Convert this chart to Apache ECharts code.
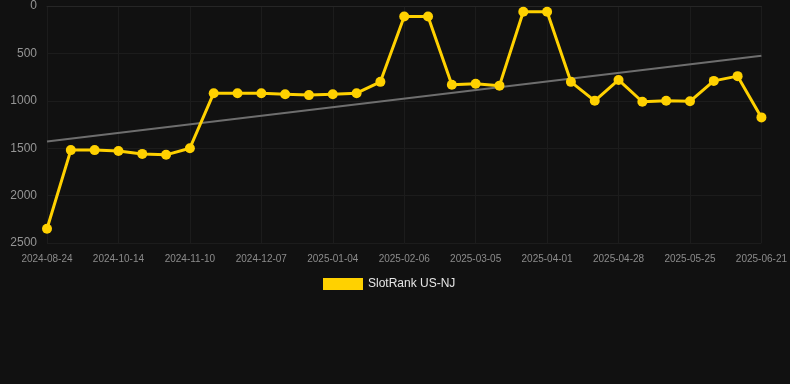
<!DOCTYPE html>
<html>
<head>
<meta charset="utf-8">
<style>
  html, body { margin: 0; padding: 0; background: #111111; }
  #main { width: 790px; height: 384px; }
</style>
<script src="https://cdn.jsdelivr.net/npm/echarts@6/dist/echarts.min.js"></script>
</head>
<body>
<div id="main"></div>
<script>
// Dates des relevés (axe des x)
const dates = [
    '2024-08-24', '2024-09-10', '2024-09-27', '2024-10-14', '2024-10-23', '2024-11-01',
    '2024-11-10', '2024-11-19', '2024-11-28', '2024-12-07', '2024-12-16', '2024-12-26',
    '2025-01-04', '2025-01-15', '2025-01-26', '2025-02-06', '2025-02-15', '2025-02-24',
    '2025-03-05', '2025-03-14', '2025-03-23', '2025-04-01', '2025-04-10', '2025-04-19',
    '2025-04-28', '2025-05-07', '2025-05-16', '2025-05-25', '2025-06-03', '2025-06-12',
    '2025-06-21'
];

// Rang SlotRank US-NJ
const ranks = [
    2350, 1520, 1520, 1530, 1560, 1570,
    1500, 920, 920, 920, 930, 940,
    930, 920, 800, 110, 110, 830,
    820, 840, 60, 60, 800, 1000,
    780, 1010, 1000, 1005, 790, 740,
    1175
];

// Tendance : valeur au début et à la fin
const trendEnds = [1430, 525];

const yTicks = { min: 0, max: 2500, interval: 500 };

const trend = dates.map((d, i) => {
    if (i === 0) return trendEnds[0];
    if (i === dates.length - 1) return trendEnds[1];
    return null;
});

const chart = echarts.init(document.getElementById('main'));

chart.setOption({
    backgroundColor: '#111111',
    animation: false,
    grid: { left: 47, right: 28, top: 6, bottom: 141 },
    legend: {
        top: 273,
        left: 318,
        itemWidth: 40,
        itemHeight: 12,
        itemGap: 6,
        icon: 'rect',
        data: ['SlotRank US-NJ'],
        textStyle: { color: '#e6e6e6', fontSize: 12, fontFamily: 'Arial, Liberation Sans, sans-serif' }
    },
    xAxis: {
        type: 'category',
        data: dates,
        boundaryGap: false,
        axisLine: { show: true, lineStyle: { color: '#262626' } },
        axisTick: { show: false },
        axisLabel: {
            interval: 2,
            color: '#8c8c8c',
            fontSize: 10,
            margin: 11,
            fontFamily: 'Arial, Liberation Sans, sans-serif'
        },
        splitLine: { show: true, interval: 2, lineStyle: { color: '#1c1c1c' } }
    },
    yAxis: {
        type: 'value',
        inverse: true,
        min: yTicks.min,
        max: yTicks.max,
        interval: yTicks.interval,
        axisLine: { show: false },
        axisTick: { show: false },
        axisLabel: {
            color: '#959595',
            fontSize: 12,
            margin: 10,
            formatter: v => String(v),
            fontFamily: 'Arial, Liberation Sans, sans-serif'
        },
        splitLine: { lineStyle: { color: '#1c1c1c' } }
    },
    series: [
        {
            name: 'SlotRank US-NJ',
            type: 'line',
            data: ranks,
            symbol: 'circle',
            symbolSize: 10,
            itemStyle: { color: '#FFD100' },
            lineStyle: { color: '#FFD100', width: 3 },
            z: 3
        },
        {
            name: 'trend',
            type: 'line',
            data: trend,
            connectNulls: true,
            symbol: 'none',
            lineStyle: { color: '#6e6e6e', width: 2 },
            z: 2
        }
    ]
});
</script>
</body>
</html>
